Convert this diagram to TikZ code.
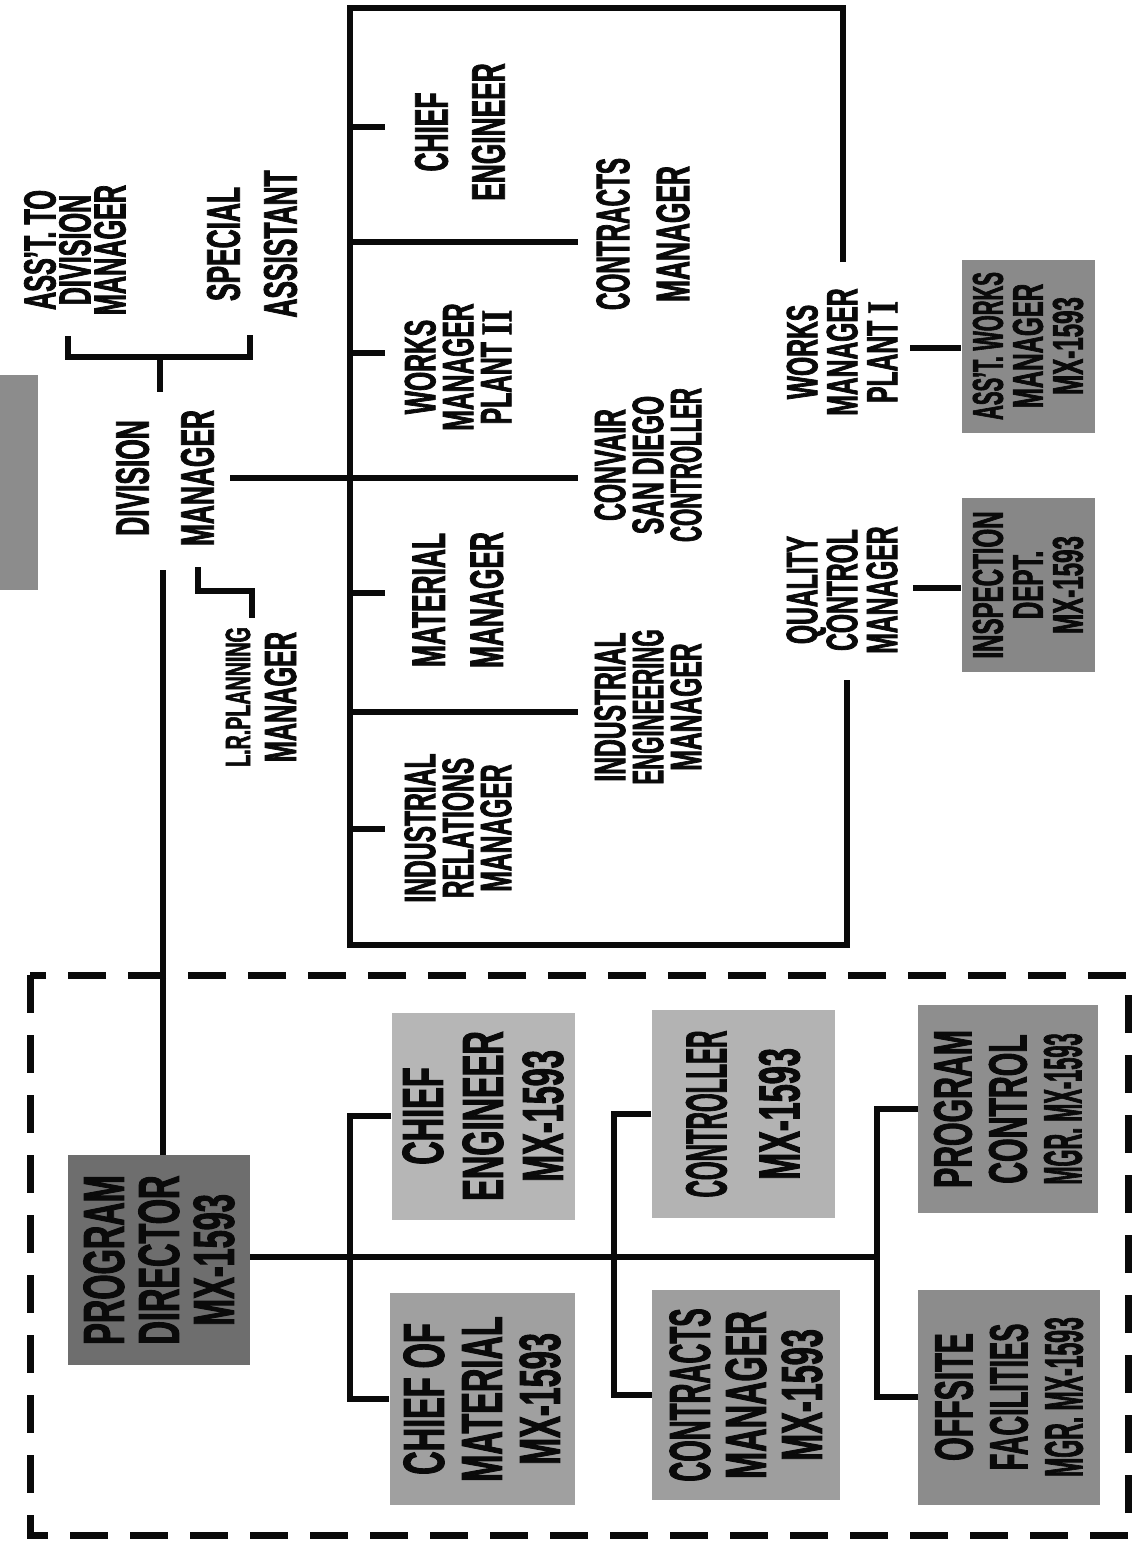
\documentclass[tikz,border=0pt]{standalone}
\usepackage{fontspec}
\setmainfont{Liberation Sans}[FakeStretch=0.56, BoldFeatures={FakeBold=1.6}]
\newfontfamily\romfont{Liberation Serif}[FakeStretch=0.75, BoldFeatures={FakeBold=1.2}]
\newcommand\myfs[2]{\fontsize{#1}{#2}\selectfont\bfseries}
\newcommand\sq[2]{\scalebox{#1}[1]{#2}}
\definecolor{ink}{HTML}{0A0A0A}
\definecolor{gTL}{HTML}{8C8C8C}
\definecolor{gPD}{HTML}{6E6E6E}
\definecolor{gCE}{HTML}{B6B6B6}
\definecolor{gCM}{HTML}{A0A0A0}
\definecolor{gCT}{HTML}{B3B3B3}
\definecolor{gCN}{HTML}{9E9E9E}
\definecolor{gPC}{HTML}{8E8E8E}
\definecolor{gOF}{HTML}{8C8C8C}
\definecolor{gAW}{HTML}{8A8A8A}
\definecolor{gIN}{HTML}{878787}
\begin{document}
\begin{tikzpicture}[x=1pt,y=-1pt,
  ln/.style={draw=ink, line width=6.5pt, line join=miter},
  lbl/.style={rotate=90, align=center, inner sep=0pt, text=ink},
  gbox/.style={rotate=90, align=center, inner sep=0pt, text=ink}]
\fill[white] (0,0) rectangle (1138,1547);
\useasboundingbox (0,0) rectangle (1138,1547);

% ---------- upper chart ----------
\node[gbox, fill=gTL, minimum width=215pt, minimum height=38pt] (tl) at (19,482) {};

\node[lbl, font=\myfs{45}{35}] (asst) at (75,250) {ASS’T. TO\\DIVISION\\MANAGER};
\node[lbl, font=\myfs{47}{57}] (spec) at (252,244) {SPECIAL\\ASSISTANT};
\node[lbl, font=\myfs{47}{65}] (dm) at (165,478) {DIVISION\\MANAGER};
\node[lbl, font=\myfs{45}{46}] (lrp) at (261,697) {\scalebox{0.78}{L.R.PLANNING}\\MANAGER};

\coordinate (bl) at (68,336);
\coordinate (br) at (250,335);
\coordinate (bm) at (160,357);
\coordinate (dmT) at (160,392);
\draw[ln] (bl) |- (br |- bm) -- (br);
\draw[ln] (bm) -- (dmT);

\coordinate (lr1) at (198,567);
\coordinate (lr2) at (252,618);
\draw[ln] (lr1) |- (lr2 |- 0,591) -- (lr2);

% frame of the division staff
\coordinate (fTL) at (350,8);
\coordinate (fBL) at (350,945);
\coordinate (fTR) at (843,262);
\coordinate (fBR) at (847,680);
\draw[ln] (fTR) |- (fTL) -- (fBL) -| (fBR);

\node[lbl, font=\myfs{47}{57}] (ce1) at (460,132) {CHIEF\\ENGINEER};
\node[lbl, font=\myfs{47}{60}] (cm1) at (643,234) {\sq{0.92}{CONTRACTS}\\MANAGER};
\node[lbl, font=\myfs{44}{38}] (wm2) at (458,367) {WORKS\\MANAGER\\PLANT {\romfont\bfseries II}};
\node[lbl, font=\myfs{44}{38}] (conv) at (648,465) {CONVAIR\\SAN DIEGO\\\sq{0.9}{CONTROLLER}};
\node[lbl, font=\myfs{47}{58}] (mat) at (458,600) {MATERIAL\\MANAGER};
\node[lbl, font=\myfs{44}{38}] (iem) at (648,707) {INDUSTRIAL\\\sq{0.9}{ENGINEERING}\\MANAGER};
\node[lbl, font=\myfs{44}{38}] (irm) at (458,828) {INDUSTRIAL\\RELATIONS\\MANAGER};
\node[lbl, font=\myfs{44}{40}] (wm1) at (842,352) {WORKS\\MANAGER\\PLANT {\romfont\bfseries I}};
\node[lbl, font=\myfs{44}{40}] (qcm) at (842,590) {QUALITY\\CONTROL\\MANAGER};

\coordinate (t1) at (385,127);
\coordinate (t2) at (578,242);
\coordinate (t3) at (385,353);
\coordinate (t4) at (578,478);
\coordinate (t5) at (385,593);
\coordinate (t6) at (578,712);
\coordinate (t7) at (385,829);
\coordinate (dmR) at (230,478);
\draw[ln] (fTL |- t1) -- (t1);
\draw[ln] (fTL |- t2) -- (t2);
\draw[ln] (fTL |- t3) -- (t3);
\draw[ln] (dmR) -- (t4);
\draw[ln] (fTL |- t5) -- (t5);
\draw[ln] (fTL |- t6) -- (t6);
\draw[ln] (fTL |- t7) -- (t7);

\node[gbox, fill=gAW, minimum width=173pt, minimum height=133pt, font=\myfs{43}{40}] (aw) at (1028,346) {\sq{0.85}{ASS’T. WORKS}\\MANAGER\\MX-1593};
\node[gbox, fill=gIN, minimum width=174pt, minimum height=133pt, font=\myfs{43}{40}] (insp) at (1028,585) {INSPECTION\\DEPT.\\MX-1593};
\coordinate (wm1R) at (910,348);
\coordinate (qcmR) at (913,588);
\draw[ln] (wm1R) -- (aw.north |- wm1R);
\draw[ln] (qcmR) -- (insp.north |- qcmR);

% ---------- lower chart ----------
\draw[draw=ink, line width=7pt, dash pattern=on 38pt off 22pt] (30,975) rectangle (1128,1535);

\node[gbox, fill=gPD, minimum width=210pt, minimum height=182pt, font=\myfs{58}{55}] (pd) at (159,1260) {PROGRAM\\DIRECTOR\\MX-1593};
\node[gbox, fill=gCE, minimum width=207pt, minimum height=183pt, font=\myfs{58}{60}] (ce2) at (483,1116) {CHIEF\\ENGINEER\\MX-1593};
\node[gbox, fill=gCM, minimum width=212pt, minimum height=185pt, font=\myfs{58}{58}] (com) at (482,1399) {CHIEF OF\\MATERIAL\\MX-1593};
\node[gbox, fill=gCT, minimum width=208pt, minimum height=183pt, font=\myfs{58}{73}] (ctl) at (743,1114) {\sq{0.74}{CONTROLLER}\\MX-1593};
\node[gbox, fill=gCN, minimum width=210pt, minimum height=188pt, font=\myfs{58}{56}] (cn2) at (746,1395) {\sq{0.85}{CONTRACTS}\\MANAGER\\MX-1593};
\node[gbox, fill=gPC, minimum width=208pt, minimum height=180pt, font=\myfs{54}{55}] (pc) at (1008,1109) {PROGRAM\\CONTROL\\\sq{0.72}{MGR. MX-1593}};
\node[gbox, fill=gOF, minimum width=215pt, minimum height=182pt, font=\myfs{54}{55}] (of) at (1009,1397) {OFFSITE\\\sq{0.9}{FACILITIES}\\\sq{0.76}{MGR. MX-1593}};

\coordinate (dmB) at (163,570);
\draw[ln] (dmB) -- (pd.north east -| dmB);

\coordinate (j1) at (350,1257);
\coordinate (j2) at (614,1257);
\coordinate (j3) at (877,1257);
\draw[ln] (pd.south |- j1) -- (j3);
\draw[ln] (ce2.north) -| (j1) |- (com.north);
\draw[ln] (ctl.north) -| (j2) |- (cn2.north);
\draw[ln] (pc.north) -| (j3) |- (of.north);
\end{tikzpicture}
\end{document}
